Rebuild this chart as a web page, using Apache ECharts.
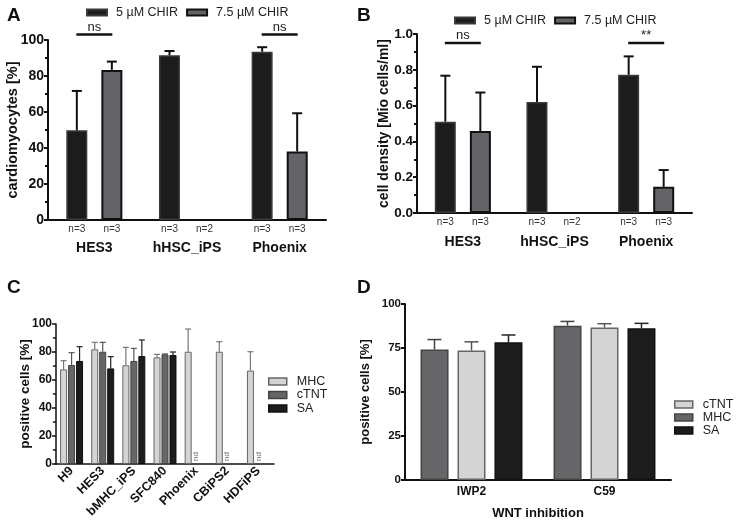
<!DOCTYPE html>
<html>
<head>
<meta charset="utf-8">
<script src="https://cdn.jsdelivr.net/npm/echarts@6/dist/echarts.min.js"></script>
<style>html,body{margin:0;padding:0;background:#fff}#c{width:736px;height:521px}</style>
</head>
<body>
<div id="c"></div>
<script>
// ---------- data ----------
const groupsAB = ['HES3', 'hHSC_iPS', 'Phoenix'];
const chirNames = ['5 µM CHIR', '7.5 µM CHIR'];
const nLabels5 = ['n=3', 'n=3', 'n=3'];
const nLabels75 = ['n=3', 'n=2', 'n=3'];
// Panel A: cardiomyocytes [%]
const cmMean5 = [49.8, 91.5, 93.5];
const cmErr5 = [21.9, 2.4, 2.5];
const cmMean75 = [83.4, 0, 38.1];
const cmErr75 = [4.6, null, 21.2];
const sigA = ['ns', '', 'ns'];
const sigALevel = 103;
// Panel B: cell density [Mio cells/ml]
const densMean5 = [0.51, 0.62, 0.772];
const densErr5 = [0.257, 0.197, 0.103];
const densMean75 = [0.458, 0, 0.146];
const densErr75 = [0.215, null, 0.094];
const sigB = ['ns', '', '**'];
const sigBLevel = 0.95;
// Panel C: positive cells [%]
const linesC = ['H9', 'HES3', 'bMHC_iPS', 'SFC840', 'Phoenix', 'CBiPS2', 'HDFiPS'];
const mhcC = [67.6, 81.9, 70.5, 76.2, 80.2, 80.2, 66.7];
const mhcErrC = [6.2, 5.0, 12.8, 2.1, 16.2, 7.2, 13.5];
const ctntC = [70.7, 80.2, 73.6, 78.3, 0, 0, 0];
const ctntErrC = [8.8, 6.7, 9.0, 0.3, null, null, null];
const saC = [73.6, 68.3, 77.1, 77.9, null, null, null];
const saErrC = [10.2, 8.4, 11.5, 2.1, null, null, null];
const ndC = ['', '', '', '', 'nd', 'nd', 'nd'];
// Panel D: positive cells [%], WNT inhibition
const inhibitors = ['IWP2', 'C59'];
const mhcD = [74.1, 87.7];
const mhcErrD = [5.7, 2.4];
const ctntD = [73.6, 86.7];
const ctntErrD = [4.9, 2.1];
const saD = [78.2, 86.2];
const saErrD = [4.2, 2.8];

// ---------- helpers ----------
const FONT = '"Liberation Sans", Arial, Helvetica, sans-serif';
const HIDDEN = { color: 'rgba(0,0,0,0)', borderWidth: 0 };
function errData(means, errs) {
  const out = [];
  means.forEach((m, i) => { if (errs[i] != null && m != null) out.push([i, m, errs[i]]); });
  return out;
}
function errSeries(xi, yi, means, errs, offset, capHalf, lw, color) {
  return {
    type: 'custom', xAxisIndex: xi, yAxisIndex: yi, silent: true, z: 5,
    encode: { x: 0, y: 1 },
    data: errData(means, errs),
    renderItem: function (params, api) {
      const i = api.value(0), m = api.value(1), e = api.value(2);
      const p0 = api.coord([i, m]);
      const p1 = api.coord([i, m + e]);
      const cx = p0[0] + offset;
      const st = { stroke: color, lineWidth: lw };
      return {
        type: 'group', children: [
          { type: 'line', shape: { x1: cx, y1: p0[1], x2: cx, y2: p1[1] }, style: st },
          { type: 'line', shape: { x1: cx - capHalf, y1: p1[1], x2: cx + capHalf, y2: p1[1] }, style: st }
        ]
      };
    }
  };
}
function sigSeries(xi, yi, texts, level, half) {
  const data = [];
  texts.forEach((t, i) => { if (t) data.push([i, level]); });
  const shown = texts.filter(t => t);
  return {
    type: 'custom', xAxisIndex: xi, yAxisIndex: yi, silent: true, clip: false, z: 6,
    encode: { x: 0, y: 1 },
    data: data,
    renderItem: function (params, api) {
      const p = api.coord([api.value(0), api.value(1)]);
      return {
        type: 'group', children: [
          { type: 'line', shape: { x1: p[0] - half, y1: p[1], x2: p[0] + half, y2: p[1] }, style: { stroke: '#111', lineWidth: 2.5 } },
          { type: 'text', x: p[0], y: p[1] - 1, style: { text: shown[params.dataIndex], align: 'center', verticalAlign: 'bottom', fontSize: 13, fontFamily: FONT, fill: '#222' } }
        ]
      };
    }
  };
}
function barData(vals, labels) {
  return vals.map((v, i) => {
    if (v == null) return null;
    const item = { value: v, label: { formatter: labels[i] } };
    if (v === 0) item.itemStyle = HIDDEN;
    return item;
  });
}
function yAxisBase(grid, min, max, interval, name, nameGap, fs, lfs, minor, fmt, lw) {
  return {
    type: 'value', gridIndex: grid, min: min, max: max, interval: interval,
    name: name, nameLocation: 'middle', nameGap: nameGap, nameMoveOverlap: false,
    nameTextStyle: { fontWeight: 'bold', fontSize: fs, color: '#111', fontFamily: FONT },
    axisLine: { show: true, lineStyle: { color: '#111', width: lw } },
    axisTick: { show: true, length: 4, lineStyle: { color: '#111', width: lw } },
    minorTick: { show: minor, splitNumber: 2, length: 3, lineStyle: { color: '#111', width: lw } },
    splitLine: { show: false },
    axisLabel: { fontWeight: 'bold', fontSize: lfs, color: '#111', margin: 4, fontFamily: FONT, formatter: fmt }
  };
}

const legendTxt = { fontSize: 12.5, color: '#222', fontFamily: FONT, padding: [0, 0, 0, 4] };
const legendTxtV = { fontSize: 12.5, lineHeight: 13, color: '#222', fontFamily: FONT, padding: [0, 0, 0, 5] };

const option = {
  animation: false,
  textStyle: { fontFamily: FONT },
  title: [
    { text: 'A', left: 2, top: 1, textStyle: { fontSize: 19, fontWeight: 'bold', color: '#111' } },
    { text: 'B', left: 352, top: 1, textStyle: { fontSize: 19, fontWeight: 'bold', color: '#111' } },
    { text: 'C', left: 2, top: 273, textStyle: { fontSize: 19, fontWeight: 'bold', color: '#111' } },
    { text: 'D', left: 352, top: 273, textStyle: { fontSize: 19, fontWeight: 'bold', color: '#111' } }
  ],
  legend: [
    { left: 81, top: 1, icon: 'rect', itemWidth: 20, itemHeight: 6, itemGap: 8, textStyle: legendTxt, data: chirNames, selectedMode: false },
    { left: 449, top: 9, icon: 'rect', itemWidth: 20, itemHeight: 6, itemGap: 8, textStyle: legendTxt, data: chirNames, selectedMode: false },
    { left: 263, top: 370, orient: 'vertical', icon: 'rect', itemWidth: 18, itemHeight: 7, itemGap: 0.5, selectedMode: false,
      textStyle: legendTxtV,
      data: [
        { name: 'MHC', itemStyle: { color: '#d4d4d4', borderColor: '#666', borderWidth: 1.5 } },
        { name: 'cTNT', itemStyle: { color: '#666669', borderColor: '#444', borderWidth: 1.5 } },
        { name: 'SA', itemStyle: { color: '#1c1c1c', borderColor: '#111', borderWidth: 1.5 } }
      ] },
    { left: 669, top: 393, orient: 'vertical', icon: 'rect', itemWidth: 18, itemHeight: 7, itemGap: 0, selectedMode: false,
      textStyle: legendTxtV,
      data: [
        { name: 'cTNT', itemStyle: { color: '#d4d4d4', borderColor: '#666', borderWidth: 1.5 } },
        { name: 'MHC', itemStyle: { color: '#666669', borderColor: '#444', borderWidth: 1.5 } },
        { name: 'SA', itemStyle: { color: '#1c1c1c', borderColor: '#111', borderWidth: 1.5 } }
      ] }
  ],
  grid: [
    { left: 48, top: 40, width: 278, height: 180 },
    { left: 417, top: 34, width: 275, height: 179 },
    { left: 56, top: 324, width: 218, height: 140 },
    { left: 405, top: 304, width: 266, height: 177 }
  ],
  xAxis: [
    { type: 'category', gridIndex: 0, data: groupsAB,
      axisLine: { lineStyle: { color: '#111', width: 2 } },
      axisTick: { alignWithLabel: true, length: 4, lineStyle: { color: '#111', width: 2 } },
      axisLabel: { fontWeight: 'bold', fontSize: 14, color: '#111', margin: 21, fontFamily: FONT } },
    { type: 'category', gridIndex: 1, data: groupsAB,
      axisLine: { lineStyle: { color: '#111', width: 2 } },
      axisTick: { alignWithLabel: true, length: 4, lineStyle: { color: '#111', width: 2 } },
      axisLabel: { fontWeight: 'bold', fontSize: 14, color: '#111', margin: 22, fontFamily: FONT } },
    { type: 'category', gridIndex: 2, data: linesC,
      axisLine: { lineStyle: { color: '#111', width: 1.5 } },
      axisTick: { alignWithLabel: true, length: 4, lineStyle: { color: '#111', width: 1.5 } },
      axisLabel: { fontWeight: 'bold', fontSize: 12.5, color: '#111', rotate: 45, margin: 5, interval: 0, fontFamily: FONT } },
    { type: 'category', gridIndex: 3, data: inhibitors,
      name: 'WNT inhibition', nameLocation: 'middle', nameGap: 27, nameMoveOverlap: false,
      nameTextStyle: { fontWeight: 'bold', fontSize: 13, color: '#111', fontFamily: FONT },
      axisLine: { lineStyle: { color: '#111', width: 2 } },
      axisTick: { show: false },
      axisLabel: { fontWeight: 'bold', fontSize: 12, color: '#111', margin: 6, fontFamily: FONT } }
  ],
  yAxis: [
    yAxisBase(0, 0, 100, 20, 'cardiomyocytes [%]', 28, 14.5, 14, true, null, 2),
    yAxisBase(1, 0, 1, 0.2, 'cell density [Mio cells/ml]', 25.5, 14, 13.5, true, v => v.toFixed(1), 2),
    yAxisBase(2, 0, 100, 20, 'positive cells [%]', 23.5, 13.5, 12, true, null, 1.5),
    yAxisBase(3, 0, 100, 25, 'positive cells [%]', 33.5, 13, 11.5, false, null, 2)
  ],
  series: [
    // Panel A
    { type: 'bar', name: chirNames[0], xAxisIndex: 0, yAxisIndex: 0, barWidth: 21, barGap: '67%',
      itemStyle: { color: '#1c1c1c', borderColor: '#3a3a3a', borderWidth: 1.5 },
      label: { show: true, position: 'bottom', distance: 4, fontSize: 10, color: '#333' },
      data: barData(cmMean5, nLabels5) },
    { type: 'bar', name: chirNames[1], xAxisIndex: 0, yAxisIndex: 0, barWidth: 21, barGap: '67%',
      itemStyle: { color: '#646468', borderColor: '#111', borderWidth: 2 },
      label: { show: true, position: 'bottom', distance: 4, fontSize: 10, color: '#333' },
      data: barData(cmMean75, nLabels75) },
    errSeries(0, 0, cmMean5, cmErr5, -17.5, 5, 2, '#111'),
    errSeries(0, 0, cmMean75, cmErr75, 17.5, 5, 2, '#111'),
    sigSeries(0, 0, sigA, sigALevel, 18),
    // Panel B
    { type: 'bar', name: chirNames[0], xAxisIndex: 1, yAxisIndex: 1, barWidth: 21, barGap: '67%',
      itemStyle: { color: '#1c1c1c', borderColor: '#3a3a3a', borderWidth: 1.5 },
      label: { show: true, position: 'bottom', distance: 4, fontSize: 10, color: '#333' },
      data: barData(densMean5, nLabels5) },
    { type: 'bar', name: chirNames[1], xAxisIndex: 1, yAxisIndex: 1, barWidth: 21, barGap: '67%',
      itemStyle: { color: '#646468', borderColor: '#111', borderWidth: 2 },
      label: { show: true, position: 'bottom', distance: 4, fontSize: 10, color: '#333' },
      data: barData(densMean75, nLabels75) },
    errSeries(1, 1, densMean5, densErr5, -17.5, 5, 2, '#111'),
    errSeries(1, 1, densMean75, densErr75, 17.5, 5, 2, '#111'),
    sigSeries(1, 1, sigB, sigBLevel, 18),
    // Panel C
    { type: 'bar', name: 'MHC', xAxisIndex: 2, yAxisIndex: 2, barWidth: 7, barGap: '14%',
      itemStyle: { color: '#d4d4d4', borderColor: '#666', borderWidth: 1 }, data: mhcC },
    { type: 'bar', name: 'cTNT', xAxisIndex: 2, yAxisIndex: 2, barWidth: 7, barGap: '14%',
      itemStyle: { color: '#666669', borderColor: '#444', borderWidth: 1 },
      label: { show: true, position: 'top', distance: 3, rotate: 90, align: 'left', verticalAlign: 'middle', fontSize: 8, color: '#666',
        formatter: p => ndC[p.dataIndex] },
      data: ctntC.map(v => v === 0 ? { value: 0, itemStyle: HIDDEN } : v) },
    { type: 'bar', name: 'SA', xAxisIndex: 2, yAxisIndex: 2, barWidth: 7, barGap: '14%',
      itemStyle: { color: '#1c1c1c', borderColor: '#111', borderWidth: 1 }, data: saC },
    errSeries(2, 2, mhcC, mhcErrC, -8, 3, 1.2, '#777'),
    errSeries(2, 2, ctntC, ctntErrC, 0, 3, 1.2, '#555'),
    errSeries(2, 2, saC, saErrC, 8, 3, 1.2, '#222'),
    // Panel D
    { type: 'bar', name: 'MHC', xAxisIndex: 3, yAxisIndex: 3, barWidth: 28, barGap: '32%',
      itemStyle: { color: '#666669', borderColor: '#444', borderWidth: 1.5 }, data: mhcD },
    { type: 'bar', name: 'cTNT', xAxisIndex: 3, yAxisIndex: 3, barWidth: 28, barGap: '32%',
      itemStyle: { color: '#d4d4d4', borderColor: '#666', borderWidth: 1.5 }, data: ctntD },
    { type: 'bar', name: 'SA', xAxisIndex: 3, yAxisIndex: 3, barWidth: 28, barGap: '32%',
      itemStyle: { color: '#1c1c1c', borderColor: '#111', borderWidth: 1.5 }, data: saD },
    errSeries(3, 3, mhcD, mhcErrD, -37, 7, 1.5, '#444'),
    errSeries(3, 3, ctntD, ctntErrD, 0, 7, 1.5, '#555'),
    errSeries(3, 3, saD, saErrD, 37, 7, 1.5, '#222')
  ]
};
const chart = echarts.init(document.getElementById('c'), null, { renderer: 'canvas' });
chart.setOption(option);
</script>
</body>
</html>
